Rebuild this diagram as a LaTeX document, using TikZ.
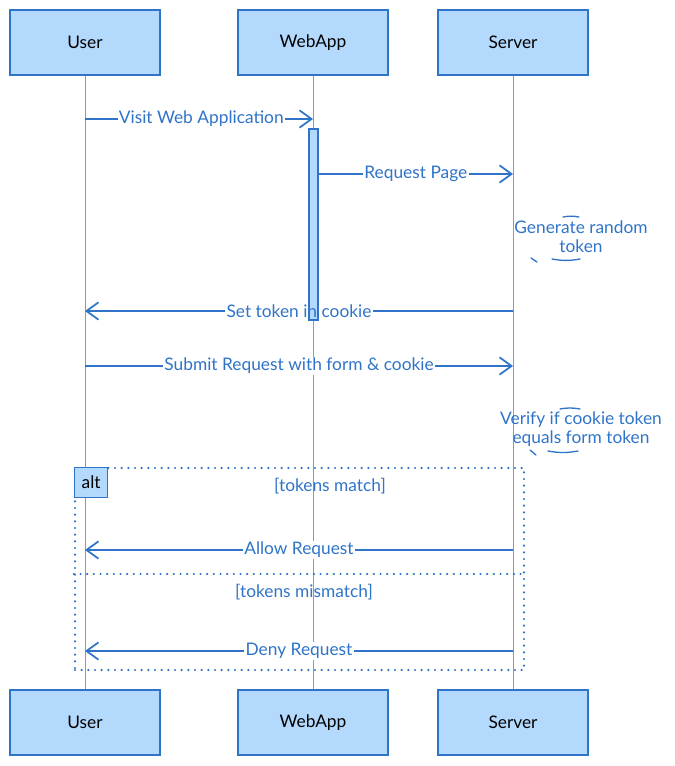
\documentclass[tikz,border=0pt]{standalone}
\usepackage{fontspec}
\setmainfont{Lato}
\definecolor{seqblau}{HTML}{2F74C8}
\definecolor{seqfill}{HTML}{B3DAFD}
\definecolor{seqlife}{HTML}{6F9FDC}
\usetikzlibrary{arrows.meta, positioning, calc}

\tikzset{
  actor/.style={draw=seqblau, fill=seqfill, line width=1.4pt,
                minimum width=112.5pt, minimum height=48.75pt,
                font=\fontsize{13}{15}\selectfont},
  lifeline/.style={draw=seqlife, line width=0.7pt},
  msgline/.style={draw=seqblau, line width=1.6pt},
  msg/.style={msgline,
              -{Straight Barb[length=9pt, width=13pt, line width=1.3pt]}},
  msglabel/.style={fill=white, text=seqblau, inner sep=1pt,
                   font=\fontsize{13}{15}\selectfont},
  notetext/.style={text=seqblau, align=center,
                   font=\fontsize{13}{14.5}\selectfont},
  frame/.style={draw=seqblau, line width=1.8pt, line cap=round,
                dash pattern=on 0pt off 5pt},
  tracing/.style={draw=seqblau, line width=1pt, line cap=round}
}

\begin{document}
\begin{tikzpicture}[x=0.75pt, y=-0.75pt, >=Latex]
  \useasboundingbox (0,0) rectangle (674,766);
  % Actors
  \node[actor] (user)    at (85,42.5)   {User};
  \node[actor] (webapp)  at (313,42.5)  {WebApp};
  \node[actor] (server)  at (513,42.5)  {Server};
  \node[actor] (userB)   at (85,722.5)  {User};
  \node[actor] (webappB) at (313,722.5) {WebApp};
  \node[actor] (serverB) at (513,722.5) {Server};
  % Lifelines
  \foreach \a in {user, webapp, server}
    \draw[lifeline] (\a.south) -- (\a B.north);
  % Activation
  \node[draw=seqblau, fill=seqfill, line width=1pt, minimum width=6.75pt,
        minimum height=143.25pt, inner sep=0pt] (act) at (313.5,224.5) {};
  % Alt frame
  \node[frame, minimum width=336.75pt, minimum height=151.5pt,
        inner sep=0pt] (alt) at (299.5,569) {};
  \node[draw=seqblau, fill=seqfill, line width=1.2pt, minimum width=24.75pt,
        minimum height=22.5pt, inner sep=0pt, anchor=north west,
        font=\fontsize{13}{15}\selectfont] (alttag) at (alt.north west) {alt};
  \coordinate (split) at (0,574);
  \draw[frame] (alt.west |- split) -- (alt.east |- split);
  \node[msglabel, fill=none] (cond1) at (330,486) {[tokens match]};
  \node[msglabel, fill=none] (cond2) at (304,592) {[tokens mismatch]};
  % Message rows
  \coordinate (r1) at (0,119);
  \coordinate (r2) at (0,174);
  \coordinate (r3) at (0,311);
  \coordinate (r4) at (0,366);
  \coordinate (r5) at (0,550);
  \coordinate (r6) at (0,651);
  % Messages
  \draw[msg] (user |- r1) -- (webapp |- r1)
    node[msglabel, pos=0.51] (m1) {Visit Web Application};
  \draw[msg] (act.east |- r2) -- (server |- r2)
    node[msglabel, midway] (m2) {Request Page};
  % label sits over the activation, so the line is split
  \node[msglabel, fill=none] (m3) at ($(server |- r3)!0.5!(user |- r3)$)
    {Set token in cookie};
  \draw[msgline] (server |- r3) -- (m3.east);
  \draw[msg] (m3.west) -- (user |- r3);
  \draw[msg] (user |- r4) -- (server |- r4)
    node[msglabel, midway] (m4) {Submit Request with form \& cookie};
  \draw[msg] (server |- r5) -- (user |- r5)
    node[msglabel, pos=0.5] (m5) {Allow Request};
  \draw[msg] (server |- r6) -- (user |- r6)
    node[msglabel, pos=0.5] (m6) {Deny Request};
  % Notes on the server
  \node[notetext] (gen) at (581,237) {Generate random\\token};
  \node[notetext] (verify) at (581,429) {Verify if cookie token\\equals form token};
  \draw[tracing] (563,217) to[bend left=10] (579,217);
  \draw[tracing] (552,259) to[bend right=10] (580,259);
  \draw[tracing] (531,258) -- (537,262);
  \draw[tracing] (560,409) to[bend left=10] (580,409);
  \draw[tracing] (548,451) to[bend right=10] (578,451);
  \draw[tracing] (530,450) -- (536,455);
\end{tikzpicture}
\end{document}
